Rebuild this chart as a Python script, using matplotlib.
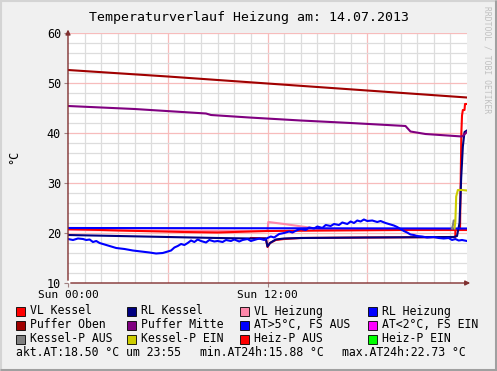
import matplotlib
matplotlib.use("Agg")
import matplotlib.pyplot as plt
from matplotlib.patches import Rectangle
from matplotlib.lines import Line2D

# ---------------- data (hours since 00:00, °C) ----------------
title = "Temperaturverlauf Heizung am: 14.07.2013"
xtick_pos = [0, 12]
xtick_labels = ["Sun 00:00", "Sun 12:00"]
ytick_pos = [10, 20, 30, 40, 50, 60]

t_oben = [0, 6, 12, 18, 24]
v_oben = [52.6, 51.3, 49.9, 48.5, 47.1]

t_mitte = [0, 4, 8.3, 8.6, 10.9, 14, 17, 20.3, 20.6, 21.5, 23.7, 24]
v_mitte = [45.4, 44.8, 43.9, 43.6, 43.1, 42.5, 42.0, 41.4, 40.3, 39.8, 39.3, 40.2]

t_vlk = [0, 3, 7, 9, 11, 12, 16, 20, 23.58, 23.62, 23.66, 23.7, 23.75, 23.85, 23.88, 24]
v_vlk = [20.8, 20.5, 20.2, 20.1, 20.3, 20.4, 20.5, 20.6, 20.6, 30.0, 40.0, 43.5, 44.6, 44.6, 45.8, 45.8]

t_heizaus = [11.0, 11.9, 12.0, 12.15, 12.5, 13, 14, 18, 23.3, 23.3, 24]
v_heizaus = [19.0, 18.9, 17.2, 18.0, 18.6, 18.8, 19.0, 19.1, 19.2, 20.6, 20.6]

t_vlh = [0, 12.0, 12.05, 13.0, 14.5, 15.5, 24]
v_vlh = [20.6, 20.4, 22.2, 21.8, 21.1, 20.6, 20.6]

t_rlk = [0, 3, 6, 9, 11, 11.9, 12.0, 12.15, 12.5, 13, 14, 18, 23.2, 23.4, 23.55, 23.65, 23.75, 23.85, 24]
v_rlk = [19.6, 19.4, 19.2, 19.0, 18.9, 18.9, 17.3, 18.0, 18.7, 18.9, 19.0, 19.1, 19.2, 19.4, 22.0, 31.0, 37.3, 40.2, 40.5]

t_rlh = [0, 12, 24]
v_rlh = [21.0, 20.95, 20.9]

t_at = [0, 0.3, 0.6, 0.9, 1.1, 1.3, 1.5, 1.7, 1.9, 2.4, 2.9, 3.4, 3.9, 4.4, 4.9, 5.3, 5.7, 6.0, 6.2, 6.4,
        6.6, 6.8, 7.0, 7.2, 7.4, 7.6, 7.8, 8.0, 8.3, 8.5, 8.8, 9.0, 9.3, 9.5, 9.8, 10.0, 10.3, 10.5, 10.8,
        11.0, 11.3, 11.5, 11.8, 12.0, 12.2, 12.4, 12.7, 13.0, 13.3, 13.5, 13.8, 14.0, 14.3, 14.5, 14.8,
        15.0, 15.3, 15.5, 15.8, 16.0, 16.3, 16.5, 16.8, 17.0, 17.2, 17.4, 17.6, 17.8, 18.0, 18.3, 18.6,
        18.8, 19.1, 19.3, 19.6, 19.8, 20.0, 20.2, 20.4, 20.6, 20.8, 21.0, 21.3, 21.6, 22.0, 22.3, 22.6,
        22.9, 23.1, 23.3, 23.5, 23.7, 24]
v_at = [18.8, 18.6, 18.9, 18.8, 18.6, 18.7, 18.2, 18.4, 18.0, 17.5, 17.0, 16.8, 16.5, 16.3, 16.1, 15.9, 16.0,
        16.3, 16.5, 17.1, 17.4, 17.8, 17.6, 18.0, 18.5, 18.2, 18.7, 18.4, 18.1, 18.6, 18.3, 18.4, 18.2,
        18.6, 18.4, 18.7, 18.3, 18.6, 18.8, 18.4, 18.7, 18.9, 18.6, 19.0, 19.3, 19.1, 19.8, 20.0, 20.3,
        20.1, 20.6, 20.8, 20.6, 21.1, 20.9, 21.3, 21.0, 21.6, 21.4, 21.8, 21.6, 22.1, 21.8, 22.3, 22.0,
        22.5, 22.3, 22.7, 22.4, 22.5, 22.2, 22.4, 22.0, 21.8, 21.5, 21.2, 20.8, 20.4, 20.1, 19.7, 19.6,
        19.4, 19.3, 19.1, 19.2, 19.0, 18.9, 19.0, 18.6, 18.8, 18.5, 18.6, 18.4]

t_kpaus = [23.1, 23.15, 23.2, 23.25]
v_kpaus = [20.9, 21.5, 22.5, 22.5]

t_kpein = [23.25, 23.3, 23.35, 23.45, 23.7, 24]
v_kpein = [20.9, 22.3, 27.3, 28.6, 28.6, 28.5]

legend_rows = [
    [("VL Kessel", "#ff0000"), ("RL Kessel", "#000080"), ("VL Heizung", "#ff88aa"), ("RL Heizung", "#0000ff")],
    [("Puffer Oben", "#a00000"), ("Puffer Mitte", "#800080"), ("AT>5°C, FS AUS", "#0000ff"), ("AT<2°C, FS EIN", "#ff00ff")],
    [("Kessel-P AUS", "#808080"), ("Kessel-P EIN", "#cccc00"), ("Heiz-P AUS", "#ff0000"), ("Heiz-P EIN", "#00ff00")],
]
stats = ["akt.AT:18.50 °C um 23:55", "min.AT24h:15.88 °C", "max.AT24h:22.73 °C"]

# ---------------- figure ----------------
W, H = 497, 371
fig = plt.figure(figsize=(W / 100, H / 100), dpi=100, facecolor="#f0f0f0")
mono = "DejaVu Sans Mono"

# 3D-ish frame: light top/left, dark bottom/right
def fline(x0, y0, x1, y1, c, w):
    fig.add_artist(Line2D([x0 / W, x1 / W], [1 - y0 / H, 1 - y1 / H], transform=fig.transFigure,
                          color=c, lw=w, solid_capstyle="butt"))

fline(0, 1, W, 1, "#d4d4d4", 1.5)
fline(1, 0, 1, H, "#d4d4d4", 1.5)
fline(0, H - 1.5, W, H - 1.5, "#a0a0a0", 2.2)
fline(W - 1.5, 0, W - 1.5, H, "#a0a0a0", 2.2)

L, R, T, B = 68, 467, 33, 283
ax = fig.add_axes([L / W, (H - B) / H, (R - L) / W, (B - T) / H])
ax.set_facecolor("white")
ax.set_xlim(0, 24)
ax.set_ylim(10, 60)

# grid
for h in range(1, 24):
    c = "#f7bcbc" if h % 6 == 0 else "#dddddd"
    ax.axvline(h, color=c, lw=0.9, zorder=1)
for v in range(12, 61, 2):
    c = "#f7bcbc" if v % 10 == 0 else "#dddddd"
    ax.axhline(v, color=c, lw=0.9, zorder=1)

for s in ax.spines.values():
    s.set_visible(False)

lw = 1.5
ax.plot(t_vlh, v_vlh, color="#ff88aa", lw=lw, zorder=3)
ax.plot(t_vlk, v_vlk, color="#ff0000", lw=lw, zorder=4)
ax.plot(t_heizaus, v_heizaus, color="#ff0000", lw=lw, zorder=4)
ax.plot(t_rlk, v_rlk, color="#000080", lw=lw, zorder=5)
ax.plot(t_rlh, v_rlh, color="#0000ff", lw=lw, zorder=5)
ax.plot(t_at, v_at, color="#0000ff", lw=lw, zorder=6)
ax.plot(t_oben, v_oben, color="#a00000", lw=lw, zorder=5)
ax.plot(t_mitte, v_mitte, color="#800080", lw=lw, zorder=5)
ax.plot(t_kpaus, v_kpaus, color="#808080", lw=lw, zorder=5)
ax.plot(t_kpein, v_kpein, color="#cccc00", lw=lw, zorder=5)

# axes with arrows
axcol = "#803030"
ax.annotate("", xy=(1.015, 0), xytext=(0, 0), xycoords="axes fraction",
            arrowprops=dict(arrowstyle="-|>", color=axcol, lw=1, mutation_scale=7), zorder=10)
ax.annotate("", xy=(0, 1.025), xytext=(0, 0), xycoords="axes fraction",
            arrowprops=dict(arrowstyle="-|>", color=axcol, lw=1, mutation_scale=7), zorder=10)

ax.set_xticks(xtick_pos)
ax.set_xticklabels(xtick_labels, fontfamily=mono, fontsize=8)
ax.set_yticks(ytick_pos)
ax.set_yticklabels([str(v) for v in ytick_pos], fontfamily=mono, fontsize=8.5)
ax.tick_params(axis="both", length=3, width=0.8, color="#a08080", pad=2, labelcolor="#000000")
ax.set_yticks(range(12, 60, 2), minor=True)
ax.set_xticks(range(1, 24), minor=True)
ax.tick_params(which="minor", length=0)

# texts
fig.text(249 / W, 1 - 17 / H, title, fontfamily=mono, fontsize=9.5, ha="center", va="center")
fig.text(14 / W, 1 - 157 / H, "°C", fontfamily=mono, fontsize=8.5, rotation=90, ha="center", va="center")
fig.text(487 / W, 1 - 60 / H, "RRDTOOL / TOBI OETIKER", fontfamily=mono, fontsize=5.8,
         rotation=-90, ha="center", va="center", color="#c0c0c0")

col_x = [16, 127, 240, 368]
row_y = [311, 325, 339]
for r, row in enumerate(legend_rows):
    for c, (name, color) in enumerate(row):
        x0, y0 = col_x[c], row_y[r]
        fig.patches.append(Rectangle((x0 / W, 1 - (y0 + 4.5) / H), 9 / W, 9 / H, transform=fig.transFigure,
                                     facecolor=color, edgecolor="#000000", linewidth=0.6))
        fig.text((x0 + 14) / W, 1 - y0 / H, name, fontfamily=mono, fontsize=8.3, va="center", ha="left")

stat_x = [16, 200, 342]
for x0, s in zip(stat_x, stats):
    fig.text(x0 / W, 1 - 353 / H, s, fontfamily=mono, fontsize=8.3, va="center", ha="left")

fig.savefig("out.png", dpi=100, facecolor=fig.get_facecolor())
